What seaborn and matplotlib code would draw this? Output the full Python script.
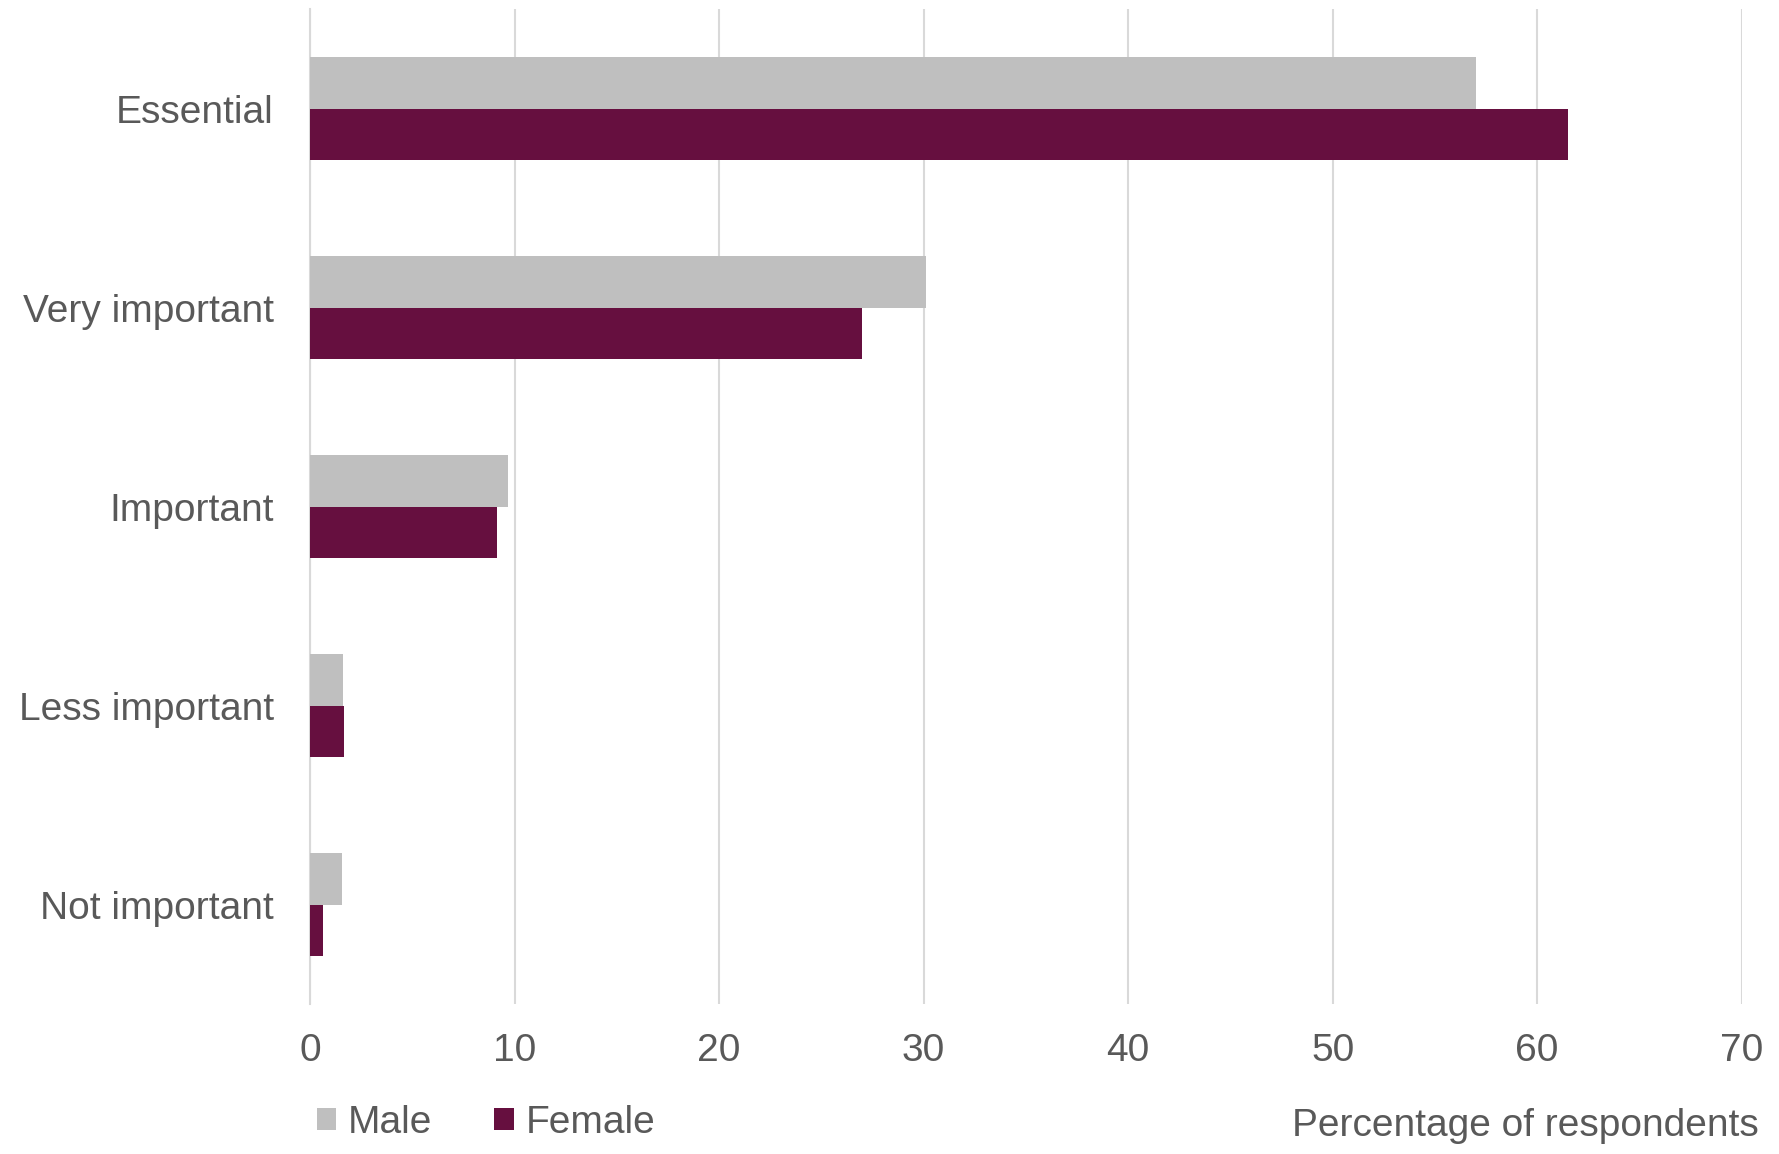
import pandas as pd
import matplotlib
matplotlib.use("Agg")
import matplotlib.pyplot as plt
import seaborn as sns

# ── Data ──────────────────────────────────────────────────────────────────────

categories = ["Essential", "Very important", "Important", "Less important", "Not important"]
male = [57.0, 30.1, 9.7, 1.6, 1.55]
female = [61.5, 27.0, 9.15, 1.68, 0.62]
x_ticks = [0, 10, 20, 30, 40, 50, 60, 70]

GREY = "#bfbfbf"
MAROON = "#660f3f"
TEXT = "#595959"
GRID = "#d9d9d9"
FS = 28

sns.set_theme(style="white")
plt.rcParams["font.family"] = ["Liberation Sans", "DejaVu Sans"]
plt.rcParams["text.color"] = TEXT

df = pd.DataFrame({
    "category": categories * 2,
    "value": male + female,
    "sex": ["Male"] * len(categories) + ["Female"] * len(categories),
})

fig = plt.figure(figsize=(17.79, 11.54), dpi=100)
ax = fig.add_axes([0.1743, 0.130, 0.979 - 0.1743, 0.992 - 0.130])

sns.barplot(
    data=df, y="category", x="value", hue="sex",
    order=categories, hue_order=["Male", "Female"],
    palette={"Male": GREY, "Female": MAROON},
    width=0.52, gap=0, orient="h", ax=ax, linewidth=0, saturation=1,
)

ax.set_xlim(0, 70)
ax.set_ylim(len(categories) - 0.5, -0.5)
ax.set_xticks(x_ticks)
ax.set_xticklabels([str(t) for t in x_ticks])
ax.xaxis.grid(True, color=GRID, linewidth=1.5)
ax.yaxis.grid(False)
ax.set_axisbelow(True)
for s in ["top", "right", "bottom"]:
    ax.spines[s].set_visible(False)
ax.spines["left"].set_color(GRID)
ax.spines["left"].set_linewidth(1.5)
ax.spines["left"].set_zorder(0.5)

ax.tick_params(axis="x", length=0, pad=21, labelsize=FS, colors=TEXT)
ax.tick_params(axis="y", length=0, pad=26, labelsize=FS, colors=TEXT)
ax.set_xlabel("")
ax.set_ylabel("")

fig.text(0.9885, 0.024, "Percentage of respondents", ha="right", va="center",
         fontsize=FS, color=TEXT)

sns.move_legend(
    ax, "center left", bbox_to_anchor=(0.178, 0.027),
    bbox_transform=fig.transFigure, ncol=2, frameon=False, title=None,
    fontsize=FS, handlelength=0.5, handleheight=0.5, handletextpad=0.3,
    columnspacing=1.6, borderpad=0, borderaxespad=0,
)
for t in ax.get_legend().get_texts():
    t.set_color(TEXT)

fig.savefig("out.png", dpi=100, facecolor="white")
